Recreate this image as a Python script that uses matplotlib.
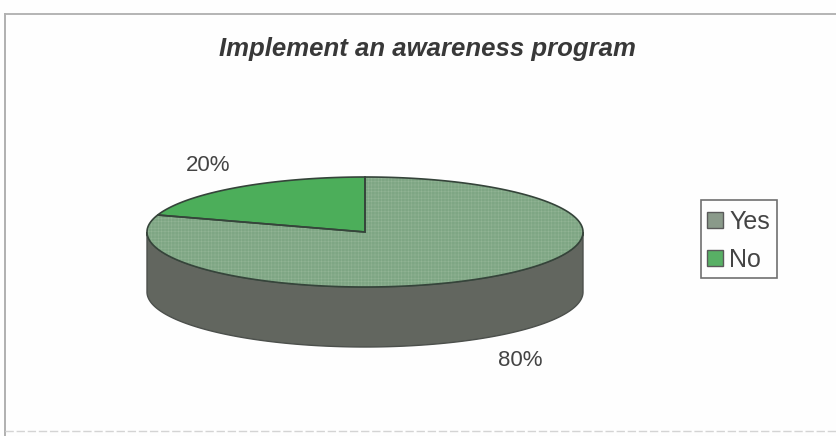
import numpy as np
import matplotlib
matplotlib.use("Agg")
import matplotlib.pyplot as plt
from matplotlib.patches import Polygon, Rectangle

title = "Implement an awareness program"
categories = ["Yes", "No"]
values = [80, 20]
labels = ["80%", "20%"]
top_colors = ["#7ea684", "#4cae5a"]
hatch_colors = ["#93b596", "#4cae5a"]
side_color = "#62665f"
legend_colors = ["#8a9a8a", "#58b065"]

plt.rcParams["font.family"] = "Liberation Sans"
plt.rcParams["hatch.linewidth"] = 0.35

W, H = 836, 436
fig = plt.figure(figsize=(W/100, H/100), dpi=100, facecolor="#fefefe")
ax = fig.add_axes([0, 0, 1, 1])
ax.set_xlim(0, W); ax.set_ylim(H, 0); ax.axis("off")

# scanned frame
ax.plot([5, 836], [14, 14], color="#b4b4b4", lw=1.4)
ax.plot([5, 5], [14, 436], color="#b0b0b0", lw=1.4)
ax.plot([5, 836], [431, 431], color="#d4d4d4", lw=1.0, ls=(0, (6, 2)))

ax.text(427, 49, title, ha="center", va="center", fontsize=18.5, fontweight="bold",
        fontstyle="italic", color="#383838")

cx, cy, rx, ry, depth = 365, 232, 218, 55, 60

# side of the pie
t = np.linspace(0, np.pi, 200)
xs = cx + rx*np.cos(t)
ys = cy + ry*np.sin(t)
side = np.column_stack([np.r_[xs, xs[::-1]], np.r_[ys, ys[::-1] + depth]])
ax.add_patch(Polygon(side, closed=True, fc=side_color, ec="#4c504c", lw=1.0, zorder=2))

# top of the pie: slices start at 12 o'clock, clockwise
fractions = np.array(values, float)/sum(values)
start = -np.pi/2
for f, col, hc in zip(fractions, top_colors, hatch_colors):
    a = np.linspace(start, start + 2*np.pi*f, 200)
    px = cx + rx*np.cos(a)
    py = cy + ry*np.sin(a)
    pts = np.column_stack([np.r_[cx, px], np.r_[cy, py]])
    ax.add_patch(Polygon(pts, closed=True, fc=col, ec="none", zorder=3))
    ax.add_patch(Polygon(pts, closed=True, fill=False, ec=hc, hatch="+++++", lw=0, zorder=3.1))
    ax.add_patch(Polygon(pts, closed=True, fill=False, ec="#35443a", lw=1.2, zorder=3.2))
    start += 2*np.pi*f

ax.text(520, 360, labels[0], ha="center", va="center", fontsize=16, color="#444444")
ax.text(208, 165, labels[1], ha="center", va="center", fontsize=16, color="#444444")

# legend
ax.add_patch(Rectangle((701, 200), 76, 78, fc="#fefefe", ec="#707070", lw=1.2, zorder=3))
for i, (name, col) in enumerate(zip(categories, legend_colors)):
    y = 220 + 38*i
    ax.add_patch(Rectangle((707, y-8), 16, 16, fc=col, ec="#5a5a5a", lw=1.0, zorder=4))
    ax.text(729, y + 2, name, ha="left", va="center", fontsize=18, color="#444444", zorder=4)

fig.savefig("out.png", dpi=100, facecolor=fig.get_facecolor())
